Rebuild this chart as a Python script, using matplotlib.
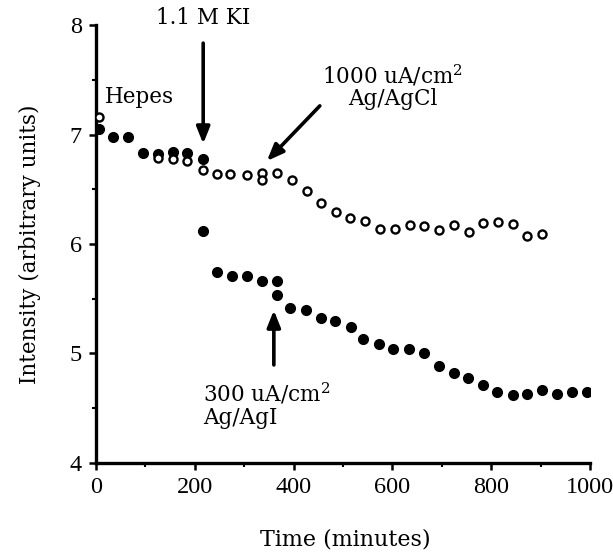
import matplotlib
matplotlib.use("Agg")
import matplotlib.pyplot as plt
from matplotlib.ticker import MultipleLocator

plt.rcParams['font.family'] = ['Liberation Serif', 'DejaVu Serif']
ANN = ['DejaVu Serif']

# Ag/AgCl, 1000 uA/cm2 (open circles)
t_open = [6, 126, 156, 184, 217, 245, 271, 306, 336, 336, 366, 397, 427, 455, 486,
          514, 545, 575, 605, 636, 664, 694, 725, 755, 783, 814, 844, 872, 903]
v_open = [7.16, 6.79, 6.78, 6.76, 6.68, 6.64, 6.64, 6.63, 6.65, 6.58, 6.65, 6.58, 6.48,
          6.37, 6.29, 6.24, 6.21, 6.14, 6.14, 6.17, 6.16, 6.13, 6.17, 6.11, 6.19, 6.20,
          6.18, 6.07, 6.09]

# Ag/AgI, 300 uA/cm2 (filled circles)
t_fill = [6, 34, 65, 95, 126, 156, 184, 217, 217, 245, 275, 306, 336, 366, 366, 393,
          425, 455, 484, 516, 540, 573, 601, 634, 664, 694, 725, 753, 783, 812, 844,
          872, 903, 933, 964, 994]
v_fill = [7.05, 6.98, 6.98, 6.83, 6.82, 6.84, 6.83, 6.78, 6.12, 5.74, 5.71, 5.71, 5.66,
          5.66, 5.53, 5.42, 5.40, 5.32, 5.30, 5.24, 5.13, 5.09, 5.04, 5.04, 5.00, 4.89,
          4.82, 4.78, 4.71, 4.65, 4.62, 4.63, 4.67, 4.63, 4.65, 4.65]

x_ticks = [0, 200, 400, 600, 800, 1000]
y_ticks = [4, 5, 6, 7, 8]

fig = plt.figure(figsize=(6.13, 5.56), dpi=100)
ax = fig.add_axes([0.1566, 0.1673, 0.8059, 0.7877])

ax.plot(t_fill, v_fill, 'o', color='black', markersize=7, linestyle='none', zorder=3)
ax.plot(t_open, v_open, 'o', markerfacecolor='white', markeredgecolor='black',
        markersize=5.8, markeredgewidth=1.7, linestyle='none', zorder=4)

ax.set_xlim(0, 1000)
ax.set_ylim(4, 8)
ax.set_xticks(x_ticks)
ax.set_yticks(y_ticks)
ax.xaxis.set_minor_locator(MultipleLocator(100))
ax.yaxis.set_minor_locator(MultipleLocator(0.5))
ax.spines['top'].set_visible(False)
ax.spines['right'].set_visible(False)
for s in ['left', 'bottom']:
    ax.spines[s].set_linewidth(2.4)
ax.tick_params(which='major', length=5, width=1.8, labelsize=17.5, pad=5)
ax.tick_params(which='minor', length=3, width=1.5)

ax.set_xlabel('Time (minutes)', fontsize=16, family=ANN)
ax.set_ylabel('Intensity (arbitrary units)', fontsize=15.5, family=ANN)
ax.xaxis.set_label_coords(0.504, -0.150)
ax.yaxis.set_label_coords(-0.112, 0.5)

arrow = dict(arrowstyle='-|>,head_length=1.0,head_width=0.4', color='black', lw=2.6)

# annotations
ax.text(18, 7.34, 'Hepes', fontsize=15.5, ha='left', va='center', family=ANN)
ax.text(217, 8.06, '1.1 M KI', fontsize=15.5, ha='center', va='center', clip_on=False,
        family=ANN)
ax.annotate('', xy=(217, 6.89), xytext=(217, 7.86), arrowprops=arrow,
            annotation_clip=False)
ax.text(600, 7.44, '1000 uA/cm$^2$\nAg/AgCl', fontsize=15.5, ha='center', va='center',
        linespacing=1.0, family=ANN, math_fontfamily='dejavuserif')
ax.annotate('', xy=(342, 6.74), xytext=(457, 7.28), arrowprops=arrow)
ax.text(217, 4.53, '300 uA/cm$^2$\nAg/AgI', fontsize=15.5, ha='left', va='center',
        linespacing=1.0, family=ANN, math_fontfamily='dejavuserif')
ax.annotate('', xy=(360, 5.42), xytext=(360, 4.87), arrowprops=arrow)

fig.savefig('out.png', dpi=100)
